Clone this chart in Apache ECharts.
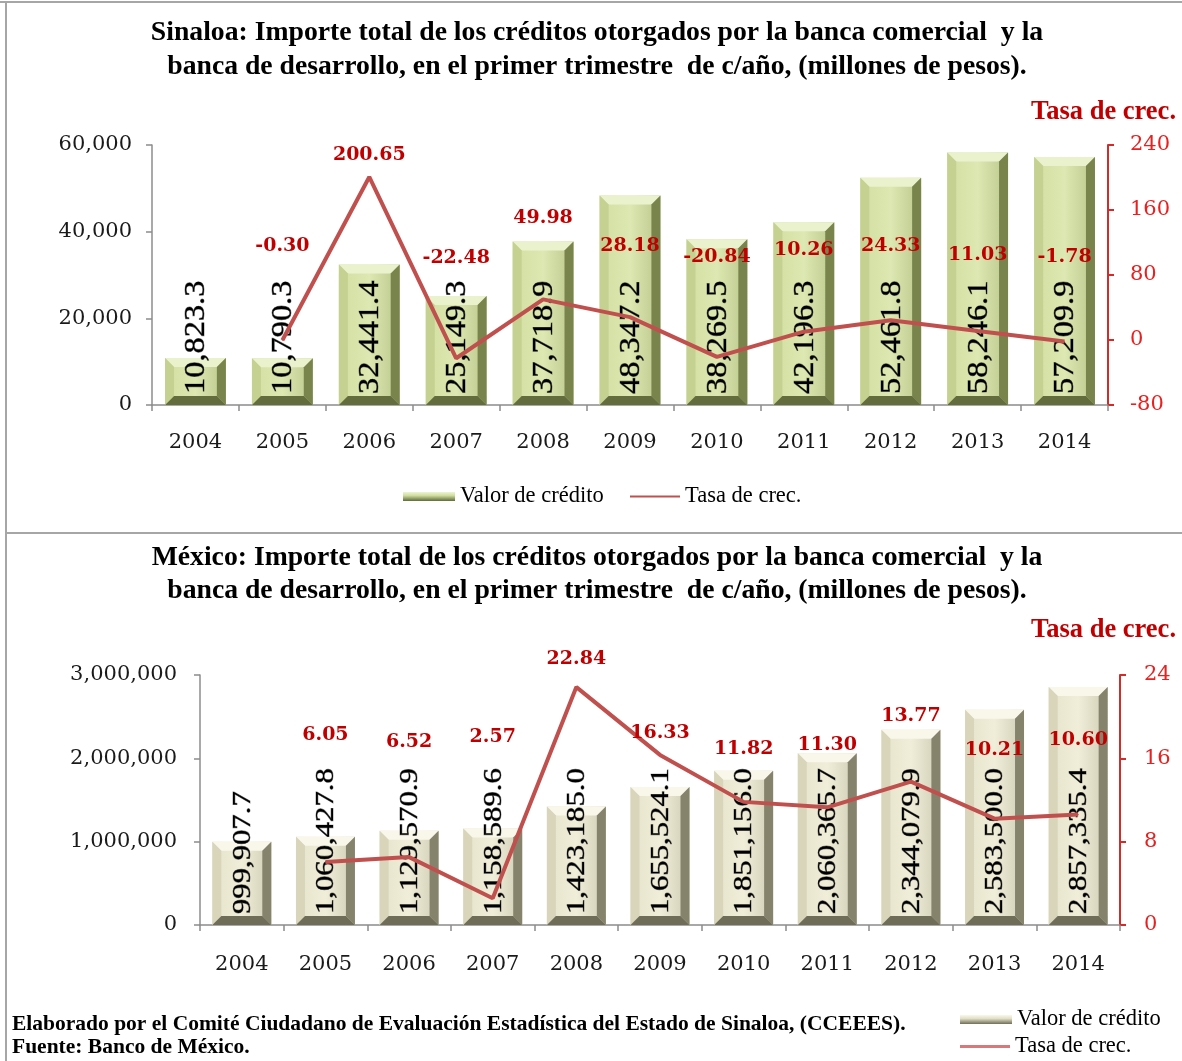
<!DOCTYPE html>
<html><head><meta charset="utf-8">
<script src="https://cdn.jsdelivr.net/npm/echarts@6/dist/echarts.min.js"></script>
<style>html,body{margin:0;padding:0;background:#fff}#c{width:1182px;height:1061px}</style>
</head><body><div id="c"></div>
<script>
// ---------- data ----------
const years = ['2004','2005','2006','2007','2008','2009','2010','2011','2012','2013','2014'];
const sinValor = [10823.3, 10790.3, 32441.4, 25149.3, 37718.9, 48347.2, 38269.5, 42196.3, 52461.8, 58246.1, 57209.9];
const sinTasa  = [null, -0.30, 200.65, -22.48, 49.98, 28.18, -20.84, 10.26, 24.33, 11.03, -1.78];
const mexValor = [999907.7, 1060427.8, 1129570.9, 1158589.6, 1423185.0, 1655524.1, 1851156.0, 2060365.7, 2344079.9, 2583500.0, 2857335.4];
const mexTasa  = [null, 6.05, 6.52, 2.57, 22.84, 16.33, 11.82, 11.30, 13.77, 10.21, 10.60];
const sinLeftTicks  = [0, 20000, 40000, 60000];
const sinRightTicks = [-80, 0, 80, 160, 240];
const mexLeftTicks  = [0, 1000000, 2000000, 3000000];
const mexRightTicks = [0, 8, 16, 24];
// label layout (pixel y of the growth-rate labels, as placed in the reference)
const sinLabelY = [null, 246, 155, 258, 218, 246, 257, 250, 246, 255, 257];
const mexLabelY = [null, 735, 742, 737, 659, 733, 749, 745, 716, 750, 740];

// ---------- helpers ----------
const fmt1 = v => v.toLocaleString('en-US', {minimumFractionDigits:1, maximumFractionDigits:1});
const fmtInt = v => v.toLocaleString('en-US');
const LG = echarts.graphic.LinearGradient;
const SERIF = '"Liberation Serif", "Times New Roman", serif';
const NUM = '"DejaVu Serif", serif';

const palGreen = {f0:'#d2dea0', f1:'#dde8b2', f2:'#b9c68a', top:'#eaf1cd', left:'#c4d190', right:'#78844c', bottom:'#626c3d'};
const palBeige = {f0:'#e6e3ca', f1:'#f0eed9', f2:'#cfccb4', top:'#f8f7ea', left:'#d8d5bb', right:'#86836d', bottom:'#6f6c58'};

function bevel(pal, font, sx, ratio) {
  return function (params, api) {
    const i = api.value(0), v = api.value(1);
    const p1 = api.coord([i, v]), p0 = api.coord([i, 0]);
    const w = api.size([1, 0])[0] * ratio;
    const x0 = p1[0] - w / 2, x1 = p1[0] + w / 2, y0 = p1[1], y1 = p0[1];
    const b = Math.min(9, (y1 - y0) / 2);
    const face = new LG(0, 0, 1, 0, [{offset:0,color:pal.f0},{offset:0.5,color:pal.f1},{offset:1,color:pal.f2}]);
    return {type:'group', children:[
      {type:'rect', shape:{x:x0,y:y0,width:w,height:y1-y0}, style:{fill:face}},
      {type:'polygon', shape:{points:[[x0,y0],[x1,y0],[x1-b,y0+b],[x0+b,y0+b]]}, style:{fill:pal.top}},
      {type:'polygon', shape:{points:[[x0,y0],[x0+b,y0+b],[x0+b,y1-b],[x0,y1]]}, style:{fill:pal.left}},
      {type:'polygon', shape:{points:[[x1,y0],[x1,y1],[x1-b,y1-b],[x1-b,y0+b]]}, style:{fill:pal.right}},
      {type:'polygon', shape:{points:[[x0,y1],[x1,y1],[x1-b,y1-b],[x0+b,y1-b]]}, style:{fill:pal.bottom}},
      {type:'text', x:p1[0]+1, y:y1-11, rotation:Math.PI/2, scaleX:sx,
       style:{text:fmt1(v), fill:'#000', font:font, align:'left', verticalAlign:'middle',
              stroke:'rgba(0,0,0,0.5)', lineWidth:0.8}}
    ]};
  };
}

function leftAxis(grid, ticks, margin) {
  return {type:'value', gridIndex:grid, position:'left', min:ticks[0], max:ticks[ticks.length-1],
    interval:ticks[1]-ticks[0], splitLine:{show:false},
    axisLine:{show:true, lineStyle:{color:'#8c8c8c', width:1.5}},
    axisTick:{show:true, length:6, lineStyle:{color:'#8c8c8c', width:1.5}},
    axisLabel:{margin:margin, color:'#1a1a1a', fontFamily:NUM, fontSize:21, formatter:v => fmtInt(v)}};
}
function rightAxis(grid, ticks, margin) {
  return {type:'value', gridIndex:grid, position:'right', min:ticks[0], max:ticks[ticks.length-1],
    interval:ticks[1]-ticks[0], splitLine:{show:false},
    axisLine:{show:true, lineStyle:{color:'#d42a2a', width:2}},
    axisTick:{show:true, length:6, lineStyle:{color:'#d42a2a', width:2}},
    axisLabel:{margin:margin, color:'#e8201f', fontFamily:NUM, fontSize:21, formatter:v => String(v)}};
}
function catAxis(grid, margin) {
  return {type:'category', gridIndex:grid, data:years, boundaryGap:true,
    axisLine:{show:true, lineStyle:{color:'#8c8c8c', width:1.5}},
    axisTick:{show:true, length:6, interval:0, lineStyle:{color:'#8c8c8c', width:1.5}},
    axisLabel:{margin:margin, color:'#1a1a1a', fontFamily:NUM, fontSize:21, interval:0}};
}
function rateSeries(xi, yi, data) {
  return {type:'line', name:'Tasa de crec.', xAxisIndex:xi, yAxisIndex:yi, data:data.slice(),
    color:'#c0504d', lineStyle:{color:'#c0504d', width:4}, symbol:'circle', symbolSize:1, showSymbol:true,
    itemStyle:{color:'#c0504d'}, z:5, animation:false,
    label:{show:true, position:'inside', color:'#c00000', fontFamily:NUM, fontWeight:'bold', fontSize:19,
      formatter:p => (p.value == null ? '' : Number(p.value).toFixed(2))}};
}

const chart = echarts.init(document.getElementById('c'), null, {renderer:'canvas'});
const barLegendGreen = new LG(0,0,0,1,[{offset:0,color:'#eef4d4'},{offset:0.4,color:'#cfdc9c'},{offset:1,color:'#5f6a3b'}]);
const barLegendBeige = new LG(0,0,0,1,[{offset:0,color:'#f8f7ea'},{offset:0.4,color:'#e2dfc6'},{offset:1,color:'#6f6c58'}]);
const legText = {fontFamily:SERIF, fontSize:22.5, color:'#000'};
const TITLE_FONT = 'bold 27.7px ' + SERIF;

const option = {
  animation:false,
  backgroundColor:'#fff',
  grid:[
    {left:152, right:74, top:145, height:260},
    {left:200, right:62, top:675, height:250}
  ],
  xAxis:[catAxis(0, 27), catAxis(1, 29)],
  yAxis:[leftAxis(0, sinLeftTicks, 20), rightAxis(0, sinRightTicks, 22),
         leftAxis(1, mexLeftTicks, 23), rightAxis(1, mexRightTicks, 24)],
  legend:[
    {data:[{name:'Valor de crédito', icon:'rect', itemStyle:{color:barLegendGreen}}], left:403, top:485, padding:0,
      itemWidth:52, itemHeight:9, textStyle:legText, selectedMode:false},
    {data:[{name:'Tasa de crec.', icon:'rect', itemStyle:{color:'#c0504d'}}], left:630, top:485, padding:0,
      itemWidth:50, itemHeight:2, textStyle:legText, selectedMode:false},
    {data:[{name:'Valor de crédito', icon:'rect', itemStyle:{color:barLegendBeige}}], left:960, top:1008, padding:0,
      itemWidth:52, itemHeight:9, textStyle:legText, selectedMode:false},
    {data:[{name:'Tasa de crec.', icon:'rect', itemStyle:{color:'#d9787a'}}], left:960, top:1035, padding:0,
      itemWidth:50, itemHeight:3, textStyle:legText, selectedMode:false}
  ],
  series:[
    {type:'custom', name:'Valor de crédito', xAxisIndex:0, yAxisIndex:0, z:2,
      itemStyle:{color:barLegendGreen}, data:sinValor.map((v,i)=>[i,v]),
      renderItem:bevel(palGreen, '30px ' + SERIF, 1.08, 0.70)},
    rateSeries(0, 1, sinTasa),
    {type:'custom', name:'Valor de crédito', xAxisIndex:1, yAxisIndex:2, z:2,
      itemStyle:{color:barLegendBeige}, data:mexValor.map((v,i)=>[i,v]),
      renderItem:bevel(palBeige, '26px ' + SERIF, 1.18, 0.705)},
    rateSeries(1, 3, mexTasa)
  ],
  graphic:[
    {type:'line', shape:{x1:0,y1:2,x2:1182,y2:2}, style:{stroke:'#a6a6a6', lineWidth:2}},
    {type:'line', shape:{x1:6,y1:2,x2:6,y2:1061}, style:{stroke:'#a6a6a6', lineWidth:2}},
    {type:'line', shape:{x1:6,y1:533,x2:1182,y2:533}, style:{stroke:'#a6a6a6', lineWidth:2}},
    {type:'text', x:597, y:33, style:{text:'Sinaloa: Importe total de los créditos otorgados por la banca comercial  y la',
      font:TITLE_FONT, fill:'#000', align:'center', verticalAlign:'middle'}},
    {type:'text', x:597, y:67, style:{text:'banca de desarrollo, en el primer trimestre  de c/año, (millones de pesos).',
      font:TITLE_FONT, fill:'#000', align:'center', verticalAlign:'middle'}},
    {type:'text', x:597, y:558, style:{text:'México: Importe total de los créditos otorgados por la banca comercial  y la',
      font:TITLE_FONT, fill:'#000', align:'center', verticalAlign:'middle'}},
    {type:'text', x:597, y:591, style:{text:'banca de desarrollo, en el primer trimestre  de c/año, (millones de pesos).',
      font:TITLE_FONT, fill:'#000', align:'center', verticalAlign:'middle'}},
    {type:'text', x:1176, y:112, style:{text:'Tasa de crec.', font:'bold 26.5px ' + SERIF, fill:'#c00000', align:'right', verticalAlign:'middle'}},
    {type:'text', x:1176, y:630, style:{text:'Tasa de crec.', font:'bold 26.5px ' + SERIF, fill:'#c00000', align:'right', verticalAlign:'middle'}},
    {type:'text', x:12, y:1024, style:{text:'Elaborado por el Comité Ciudadano de Evaluación Estadística del Estado de Sinaloa, (CCEEES).',
      font:'bold 21.5px ' + SERIF, fill:'#000', align:'left', verticalAlign:'middle'}},
    {type:'text', x:12, y:1047, style:{text:'Fuente: Banco de México.', font:'bold 21.5px ' + SERIF, fill:'#000', align:'left', verticalAlign:'middle'}}
  ]
};
chart.setOption(option);

// place rate labels where the reference shows them
function placeLabels(seriesIndex, vals, targets) {
  const data = vals.map((v, i) => {
    if (v == null) return {value:null};
    const py = chart.convertToPixel({seriesIndex:seriesIndex}, [i, v])[1];
    return {value:v, label:{offset:[0, targets[i] - py]}};
  });
  return {data:data};
}
chart.setOption({series:[{}, placeLabels(1, sinTasa, sinLabelY), {}, placeLabels(3, mexTasa, mexLabelY)]});
</script></body></html>
